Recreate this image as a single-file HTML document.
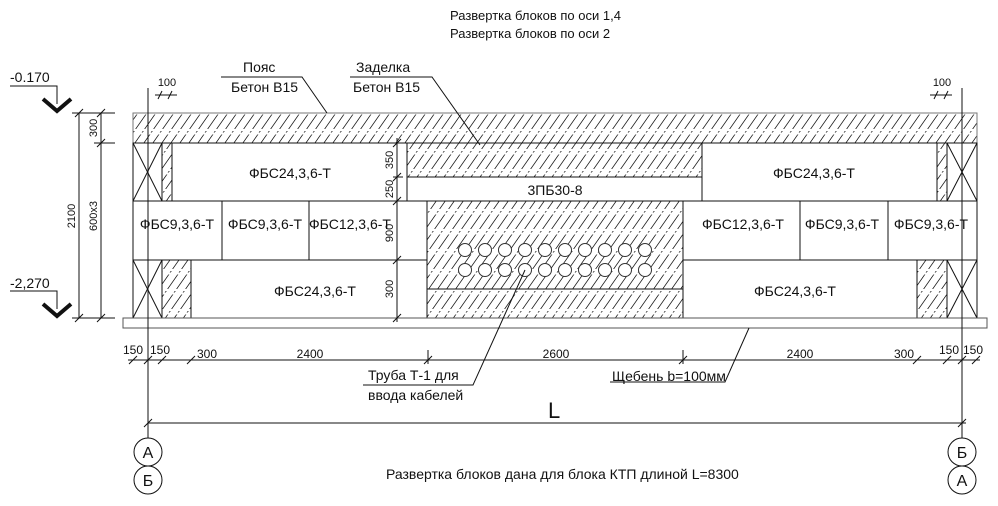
<!DOCTYPE html>
<html><head><meta charset="utf-8"><style>
html,body{margin:0;padding:0;background:#fff;}
svg{display:block;font-family:"Liberation Sans Narrow","Liberation Sans","Noto Sans CJK SC",sans-serif;}
</style></head><body>
<svg width="998" height="506" viewBox="0 0 998 506" xmlns="http://www.w3.org/2000/svg">
<defs>
<pattern id="h" patternUnits="userSpaceOnUse" width="9" height="20" patternTransform="skewX(-35)">
<line x1="1" y1="0" x2="1" y2="20" stroke="#222" stroke-width="1" stroke-dasharray="9,2,1.5,2"/>
</pattern>
</defs>
<g font-size="13" fill="#111">
<text x="450" y="20">Развертка блоков по оси 1,4</text>
<text x="450" y="38">Развертка блоков по оси 2</text>
</g>
<g fill="url(#h)" stroke="#111" stroke-width="1">
<rect x="133" y="113" width="844" height="30" stroke="#777"/>
<rect x="162" y="143" width="10" height="58"/>
<rect x="407" y="143" width="295" height="34"/>
<rect x="937" y="143" width="10" height="58"/>
<rect x="427" y="201" width="256" height="117"/>
<rect x="162" y="260" width="29" height="58"/>
<rect x="917" y="260" width="30" height="58"/>
</g>
<g fill="none" stroke="#111" stroke-width="1">
<line x1="427" y1="289" x2="683" y2="289"/>
<rect x="133" y="143" width="29" height="58"/>
<line x1="133" y1="143" x2="162" y2="201"/><line x1="162" y1="143" x2="133" y2="201"/>
<rect x="172" y="143" width="235" height="58"/>
<rect x="407" y="177" width="295" height="24"/>
<rect x="702" y="143" width="235" height="58"/>
<rect x="947" y="143" width="30" height="58"/>
<line x1="947" y1="143" x2="977" y2="201"/><line x1="977" y1="143" x2="947" y2="201"/>
<rect x="133" y="201" width="89" height="59"/>
<rect x="222" y="201" width="87" height="59"/>
<rect x="309" y="201" width="118" height="59"/>
<rect x="683" y="201" width="117" height="59"/>
<rect x="800" y="201" width="88" height="59"/>
<rect x="888" y="201" width="89" height="59"/>
<rect x="133" y="260" width="29" height="58"/>
<line x1="133" y1="260" x2="162" y2="318"/><line x1="162" y1="260" x2="133" y2="318"/>
<rect x="191" y="260" width="236" height="58"/>
<rect x="683" y="260" width="234" height="58"/>
<rect x="947" y="260" width="30" height="58"/>
<line x1="947" y1="260" x2="977" y2="318"/><line x1="977" y1="260" x2="947" y2="318"/>
<rect x="123" y="318" width="864" height="10" stroke="#555"/>
</g>
<g fill="#fff" stroke="#333" stroke-width="1">
<circle cx="465" cy="250" r="6.5"/><circle cx="485" cy="250" r="6.5"/><circle cx="505" cy="250" r="6.5"/><circle cx="525" cy="250" r="6.5"/><circle cx="545" cy="250" r="6.5"/><circle cx="565" cy="250" r="6.5"/><circle cx="585" cy="250" r="6.5"/><circle cx="605" cy="250" r="6.5"/><circle cx="625" cy="250" r="6.5"/><circle cx="645" cy="250" r="6.5"/>
<circle cx="465" cy="270" r="6.5"/><circle cx="485" cy="270" r="6.5"/><circle cx="505" cy="270" r="6.5"/><circle cx="525" cy="270" r="6.5"/><circle cx="545" cy="270" r="6.5"/><circle cx="565" cy="270" r="6.5"/><circle cx="585" cy="270" r="6.5"/><circle cx="605" cy="270" r="6.5"/><circle cx="625" cy="270" r="6.5"/><circle cx="645" cy="270" r="6.5"/>
</g>
<g font-size="14" fill="#111" text-anchor="middle">
<text x="290" y="178">ФБС24,3,6-Т</text>
<text x="555" y="195">3ПБ30-8</text>
<text x="814" y="178">ФБС24,3,6-Т</text>
<text x="177" y="229">ФБС9,3,6-Т</text>
<text x="265" y="229">ФБС9,3,6-Т</text>
<text x="350" y="229">ФБС12,3,6-Т</text>
<text x="743" y="229">ФБС12,3,6-Т</text>
<text x="842" y="229">ФБС9,3,6-Т</text>
<text x="931" y="229">ФБС9,3,6-Т</text>
<text x="315" y="296">ФБС24,3,6-Т</text>
<text x="795" y="296">ФБС24,3,6-Т</text>
</g>
<g stroke="#111" stroke-width="1" fill="none">
<line x1="148" y1="88" x2="148" y2="438"/>
<line x1="962" y1="88" x2="962" y2="438"/>
<circle cx="148" cy="452" r="14"/><circle cx="148" cy="480" r="14"/>
<circle cx="962" cy="452" r="14"/><circle cx="962" cy="480" r="14"/>
<line x1="79" y1="113" x2="79" y2="318"/>
<line x1="101" y1="113" x2="101" y2="318"/>
<line x1="72" y1="113" x2="115" y2="113"/>
<line x1="72" y1="318" x2="115" y2="318"/>
<line x1="94" y1="143" x2="115" y2="143"/>
<path d="M75 117 L83 109 M75 322 L83 314 M97 117 L105 109 M97 147 L105 139 M97 322 L105 314"/>
<line x1="397" y1="138" x2="397" y2="322"/>
<path d="M393 147 L401 139 M393 181 L401 173 M393 205 L401 197 M393 264 L401 256 M393 322 L401 314"/>
<line x1="393" y1="177" x2="403" y2="177"/><line x1="393" y1="260" x2="403" y2="260"/>
<polyline points="10,86 57,86 57,104"/>
<polyline points="10,291 57,291 57,309"/>
</g>
<path d="M43 99 L57 111 L71 99" stroke="#111" stroke-width="4" fill="none"/>
<path d="M43 304 L57 316 L71 304" stroke="#111" stroke-width="4" fill="none"/>
<g font-size="14" fill="#111">
<text x="10" y="82">-0.170</text>
<text x="10" y="288">-2,270</text>
</g>
<g font-size="11" fill="#111" text-anchor="middle">
<text transform="translate(75,216) rotate(-90)">2100</text>
<text transform="translate(97,216) rotate(-90)">600x3</text>
<text transform="translate(97,128) rotate(-90)">300</text>
<text transform="translate(393,160) rotate(-90)">350</text>
<text transform="translate(393,189) rotate(-90)">250</text>
<text transform="translate(393,233) rotate(-90)">900</text>
<text transform="translate(393,289) rotate(-90)">300</text>
<text x="167" y="86">100</text>
<text x="942" y="86">100</text>
</g>
<g stroke="#111" stroke-width="1">
<line x1="155" y1="95" x2="177" y2="95"/>
<path d="M158 99 L162 91 M168 99 L172 91"/>
<line x1="930" y1="95" x2="952" y2="95"/>
<path d="M934 99 L938 91 M944 99 L948 91"/>
<line x1="128" y1="360" x2="980" y2="360"/>
<path d="M129 364 L137 356 M144 364 L152 356 M158 364 L166 356 M187 364 L195 356 M424 364 L432 356 M679 364 L687 356 M913 364 L921 356 M943 364 L951 356 M958 364 L966 356 M972 364 L980 356"/>
<line x1="428" y1="350" x2="428" y2="364"/><line x1="683" y1="350" x2="683" y2="364"/>
<line x1="148" y1="423" x2="966" y2="423"/>
<path d="M144 427 L152 419 M958 427 L966 419"/>
<polyline points="221,77 302,77 327,113" fill="none"/>
<polyline points="350,77 432,77 480,145" fill="none"/>
<polyline points="525,270 473,385 363,385" fill="none"/>
<polyline points="749,328 725,382 610,382" fill="none"/>
</g>
<g font-size="12" fill="#111" text-anchor="middle">
<text x="133" y="354">150</text>
<text x="160" y="354">150</text>
<text x="207" y="358">300</text>
<text x="310" y="358">2400</text>
<text x="556" y="358">2600</text>
<text x="800" y="358">2400</text>
<text x="904" y="358">300</text>
<text x="949" y="354">150</text>
<text x="973" y="354">150</text>
</g>
<g font-size="14" fill="#111">
<text x="243" y="72">Пояс</text>
<text x="231" y="92">Бетон В15</text>
<text x="356" y="72">Заделка</text>
<text x="353" y="92">Бетон В15</text>
<text x="368" y="380">Труба Т-1 для</text>
<text x="368" y="400">ввода кабелей</text>
<text x="612" y="381">Щебень b=100мм</text>
<text x="386" y="479">Развертка блоков дана для  блока КТП длиной  L=8300</text>
</g>
<text x="548" y="418" font-size="22" fill="#111">L</text>
<g font-size="16" fill="#111" text-anchor="middle">
<text x="148" y="458">А</text><text x="148" y="486">Б</text>
<text x="962" y="458">Б</text><text x="962" y="486">А</text>
</g>
</svg>
</body></html>
